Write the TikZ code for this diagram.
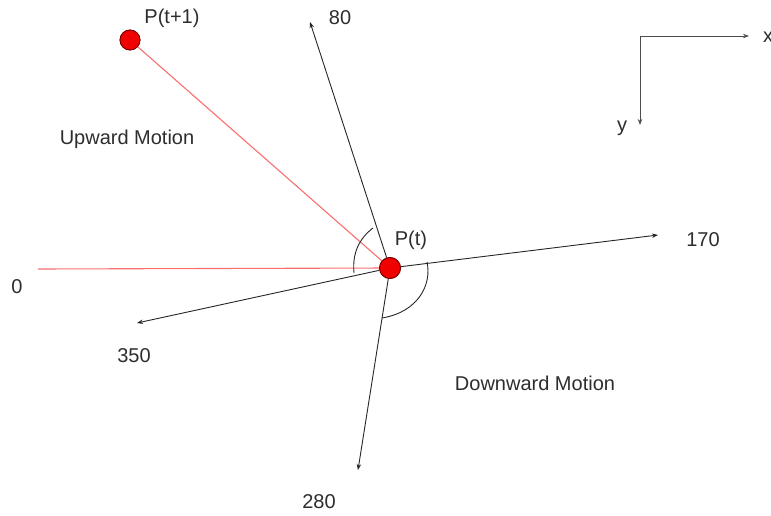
\documentclass[tikz,border=0pt]{standalone}
\usepackage{fontspec}
\setmainfont{Liberation Sans}
\usetikzlibrary{arrows.meta}
\definecolor{ptred}{RGB}{240,0,0}
\definecolor{ptedge}{RGB}{120,0,0}
\definecolor{linered}{RGB}{250,110,110}
\definecolor{txt}{RGB}{45,45,45}
\begin{document}
\begin{tikzpicture}[x=1pt,y=-1pt,
  pt/.style={circle,fill=ptred,draw=ptedge,line width=0.8pt,minimum size=21pt,inner sep=0pt},
  lbl/.style={text=txt,font=\fontsize{20}{23}\selectfont,inner sep=0pt},
  dir/.style={draw=black!85,line width=0.9pt,-{Stealth[length=6pt,width=4.5pt]}},
  redline/.style={draw=linered,line width=1.1pt},
  arcline/.style={draw=black!85,line width=0.9pt}]
\useasboundingbox (0,0) rectangle (771,516);
% points
\node[pt] (pt) at (390,268) {};
\node[pt,minimum size=20pt] (pt1) at (130,40) {};
% free end coordinates
\coordinate (zero) at (38,269);
\coordinate (e80) at (310,22);
\coordinate (e170) at (658,235);
\coordinate (e350) at (137,323);
\coordinate (e280) at (358,470);
% red lines
\draw[redline] (zero) -- (pt.center);
\draw[redline] (pt1) -- (pt.center);
% direction arrows
\draw[dir] (pt) -- (e80);
\draw[dir] (pt) -- (e170);
\draw[dir] (pt) -- (e350);
\draw[dir] (pt) -- (e280);
% arcs
\coordinate (a1s) at (373,228);
\coordinate (a1e) at (354,273);
\draw[arcline] (a1s) .. controls (360,238) and (352,252) .. (a1e);
\coordinate (a2s) at (427,262);
\coordinate (a2e) at (382,318);
\draw[arcline] (a2s) .. controls (432,285) and (418,312) .. (a2e);
% re-draw circles on top
\node[pt] at (pt) {};
\node[pt,minimum size=20pt] at (pt1) {};
% labels
\node[lbl] (lpt1) at (172,18) {P(t+1)};
\node[lbl] (lpt) at (411,240) {P(t)};
\node[lbl] (l80) at (340,18) {80};
\node[lbl] (l170) at (703,240) {170};
\node[lbl] (l350) at (134,356) {350};
\node[lbl] (l280) at (319,502) {280};
\node[lbl] (l0) at (17,287) {0};
\node[lbl] (up) at (127,139) {Upward Motion};
\node[lbl] (down) at (535,383) {Downward Motion};
% axes
\coordinate (origin) at (640,36);
\coordinate (xe) at (749,36);
\coordinate (ye) at (640,125);
\draw[dir,draw=black!70] (origin) -- (xe);
\draw[dir,draw=black!70] (origin) -- (ye);
\node[lbl,anchor=west] (lx) at (763,37) {x};
\node[lbl] (ly) at (622,128) {y};
\end{tikzpicture}
\end{document}
